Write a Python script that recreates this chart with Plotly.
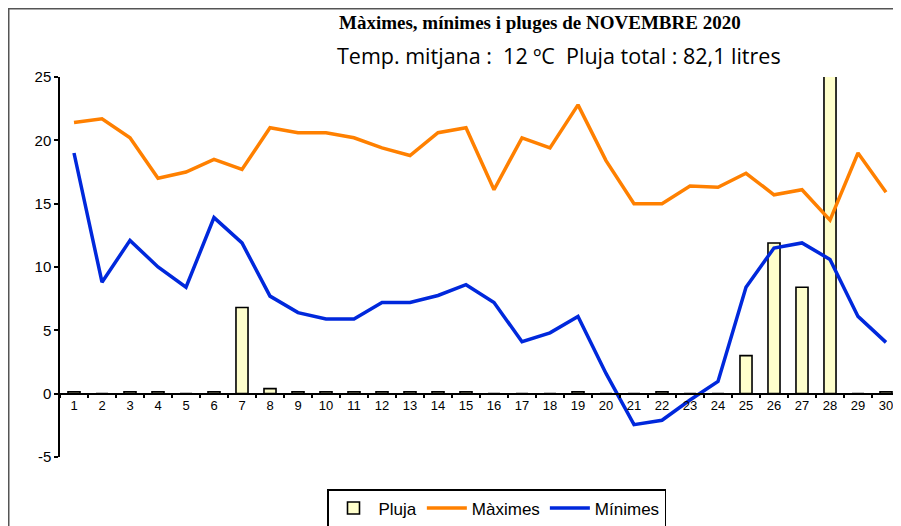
import plotly.graph_objects as go

days = [str(d) for d in range(1, 31)]
maximes = [21.4, 21.7, 20.2, 17.0, 17.5, 18.5, 17.7, 21.0, 20.6, 20.6,
           20.2, 19.4, 18.8, 20.6, 21.0, 16.1, 20.2, 19.4, 22.8, 18.4,
           15.0, 15.0, 16.4, 16.3, 17.4, 15.7, 16.1, 13.7, 19.0, 15.9]
minimes = [19.0, 8.8, 12.1, 10.0, 8.4, 13.9, 11.9, 7.7, 6.4, 5.9,
           5.9, 7.2, 7.2, 7.75, 8.6, 7.2, 4.1, 4.8, 6.1, 1.6,
           -2.45, -2.1, -0.5, 0.97, 8.4, 11.5, 11.9, 10.6, 6.1, 4.05]
pluja = [0.15, 0, 0.15, 0.15, 0, 0.15, 6.8, 0.4, 0.15, 0.15,
         0.15, 0.15, 0.15, 0.15, 0.15, 0, 0, 0, 0.15, 0,
         0, 0.15, 0, 0, 3.0, 11.9, 8.4, 49.5, 0, 0.15]
y_ticks = [-5, 0, 5, 10, 15, 20, 25]
y_ticklabels = ["-5", "0", "5", "10", "15", "20", "25"]

title_text = "Màximes, mínimes i pluges de NOVEMBRE 2020"
subtitle_text = "Temp. mitjana :\u00a0\u00a012 ºC\u00a0\u00a0Pluja total : 82,1 litres"

narrow = "Liberation Sans Narrow, Arial Narrow, Liberation Sans, Arial"

# page is rendered with an 8px body margin: figure px = page px - 8
OFF = 8
PL, PR, PT, PB = 60, 900, 77, 457   # plot area in page px
W, H = 901 - OFF, 526 - OFF


def px(xp):
    return (xp - PL) / (PR - PL)


def py(yp):
    return (PB - yp) / (PB - PT)


fig = go.Figure()
fig.add_trace(go.Bar(x=days, y=pluja, name="Pluja", width=0.43,
                     marker=dict(color="#FFFFCC", line=dict(color="black", width=1.6))))
fig.add_trace(go.Scatter(x=days, y=maximes, name="Màximes", mode="lines",
                         line=dict(color="#FF8000", width=3.5)))
fig.add_trace(go.Scatter(x=days, y=minimes, name="Mínimes", mode="lines",
                         line=dict(color="#0028DC", width=3.5)))

fig.update_layout(
    width=W, height=H,
    margin=dict(l=PL - OFF, r=W - (PR - OFF), t=PT - OFF, b=H - (PB - OFF), autoexpand=False),
    paper_bgcolor="white", plot_bgcolor="white",
    showlegend=True,
    legend=dict(orientation="h", x=px(327), xanchor="left",
                y=py(489), yanchor="top",
                bordercolor="black", borderwidth=1.5,
                font=dict(family=narrow, size=17, color="black"),
                itemwidth=40, traceorder="normal"),
    xaxis=dict(type="category", range=[-0.5, 29.5], anchor="free", position=5 / 30,
               showline=True, linecolor="black", linewidth=1.5,
               ticks="outside", ticklen=4, tickcolor="black", tickwidth=1.5,
               tickson="boundaries", showgrid=False, zeroline=False,
               tickfont=dict(family=narrow, size=13, color="black")),
    yaxis=dict(range=[-5, 25], tickmode="array", tickvals=y_ticks, ticktext=y_ticklabels,
               showline=True, linecolor="black", linewidth=1.5,
               ticks="outside", ticklen=4, tickcolor="black", tickwidth=1.5,
               showgrid=False, zeroline=False,
               tickfont=dict(family="Liberation Sans, Arial", size=15, color="black")),
    annotations=[
        dict(text="<b>" + title_text + "</b>", xref="paper", yref="paper",
             x=px(540), y=py(22), xanchor="center", yanchor="middle",
             showarrow=False, font=dict(family="Liberation Serif, Times New Roman", size=19, color="black")),
        dict(text=subtitle_text, xref="paper", yref="paper",
             x=px(559), y=py(56), xanchor="center", yanchor="middle",
             showarrow=False, font=dict(family="Open Sans, Noto Sans", size=21.5, color="black")),
    ],
    shapes=[
        dict(type="rect", xref="paper", yref="paper",
             x0=px(OFF + 0.75), x1=1.2, y0=-0.5, y1=py(OFF + 0.75),
             line=dict(color="#555555", width=1.5), fillcolor="rgba(0,0,0,0)", layer="below"),
    ],
)

fig.write_html("out.html")
